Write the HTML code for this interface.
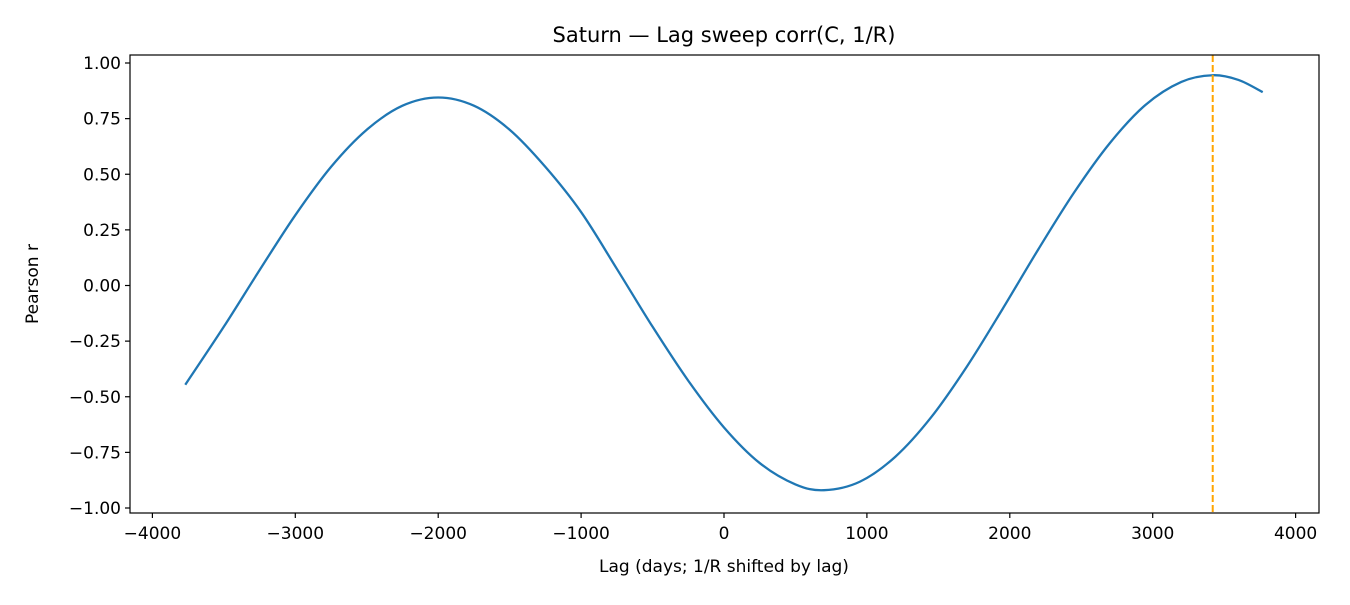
<!DOCTYPE html>
<html><head><meta charset="utf-8"><style>
body{margin:0;background:#fff;font-family:"Liberation Sans","DejaVu Sans",sans-serif;}
svg text{font-family:"DejaVu Sans","Liberation Sans",sans-serif;fill:#000;}
</style></head><body>
<svg id="chart" width="1350" height="600"></svg>
<script>
const lags=[-3770,-3500,-3250,-3000,-2750,-2500,-2250,-2000,-1750,-1500,-1250,-1000,-750,-500,-250,0,250,500,700,950,1200,1450,1700,1950,2200,2450,2700,2950,3200,3420,3600,3770];
const corrs=[-0.446,-0.185,0.069,0.316,0.533,0.700,0.808,0.845,0.808,0.700,0.533,0.33,0.075,-0.185,-0.428,-0.638,-0.798,-0.894,-0.92,-0.882,-0.769,-0.592,-0.364,-0.105,0.163,0.418,0.640,0.812,0.915,0.945,0.924,0.869];
const xTicks=[-4000,-3000,-2000,-1000,0,1000,2000,3000,4000];
const yTicks=[1.0,0.75,0.5,0.25,0,-0.25,-0.5,-0.75,-1.0];
const bestLag=3420;
const NS='http://www.w3.org/2000/svg';
const svg=document.getElementById('chart');
const L=130,R=1319,T=55,B=513;
const X=v=>724+v*0.14290;
const Y=v=>285.5-v*222.5;
function el(t,a,txt){const e=document.createElementNS(NS,t);for(const k in a)e.setAttribute(k,a[k]);if(txt!==undefined)e.textContent=txt;svg.appendChild(e);return e;}
let e=el('text',{x:724,y:42,'font-size':'21','text-anchor':'middle'},'Saturn — Lag sweep corr(C, 1/R)');


xTicks.forEach(t=>{
 const l=el('line',{x1:X(t),x2:X(t),y1:B,y2:B+5,stroke:'#000','stroke-width':1.2});
 
 
 const s=el('text',{x:X(t),y:B+26,'font-size':'17','text-anchor':'middle'},t<0?'−'+(-t):String(t));
 
 
});
yTicks.forEach(t=>{
 const l=el('line',{x1:L-5,x2:L,y1:Y(t),y2:Y(t),stroke:'#000','stroke-width':1.2});
 
 
 const s=el('text',{x:L-9,y:Y(t)+6,'font-size':'17','text-anchor':'end'},(t<0?'−':'')+Math.abs(t).toFixed(2));
 
 
});
const pts=lags.map((v,i)=>[X(v),Y(corrs[i])]);
let d='M'+pts[0].join(',');
for(let i=0;i<pts.length-1;i++){
 const p0=pts[Math.max(0,i-1)],p1=pts[i],p2=pts[i+1],p3=pts[Math.min(pts.length-1,i+2)];
 const c1=[p1[0]+(p2[0]-p0[0])/6,p1[1]+(p2[1]-p0[1])/6];
 const c2=[p2[0]-(p3[0]-p1[0])/6,p2[1]-(p3[1]-p1[1])/6];
 d+=' C'+c1.join(',')+' '+c2.join(',')+' '+p2.join(',');
}
e=el('path',{d:d,fill:'none',stroke:'#1f77b4','stroke-width':2.3});


e=el('line',{x1:X(bestLag),x2:X(bestLag),y1:T,y2:B,stroke:'#ffa500','stroke-width':2,'stroke-dasharray':'7,3'});


e=el('rect',{x:L,y:T,width:R-L,height:B-T,fill:'none',stroke:'#000','stroke-width':1.2});


e=el('text',{x:724,y:572,'font-size':'17','text-anchor':'middle'},'Lag (days; 1/R shifted by lag)');


e=el('text',{x:38,y:284,'font-size':'17','text-anchor':'middle',transform:'rotate(-90 38 284)'},'Pearson r');


</script>
</body></html>
